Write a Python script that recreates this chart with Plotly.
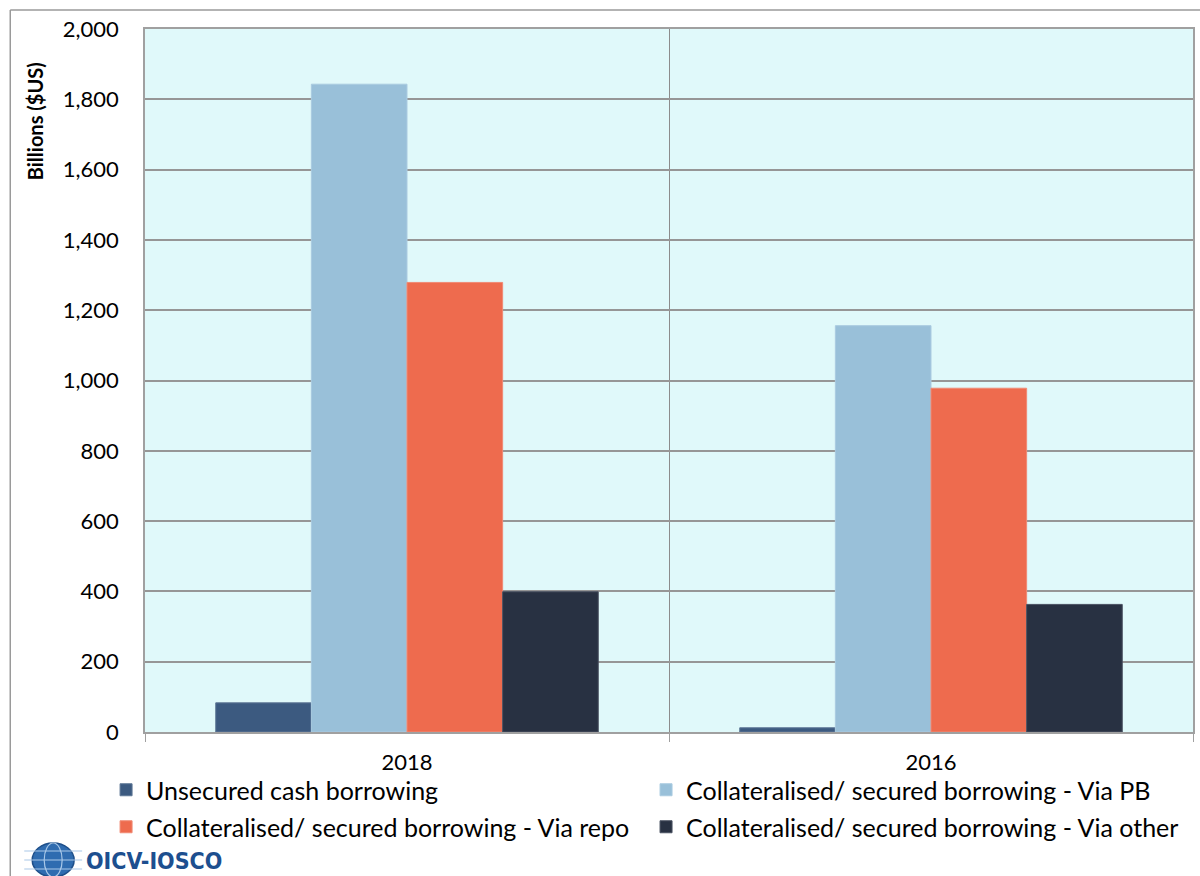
import plotly.graph_objects as go

years = ["2018", "2016"]
series_names = [
    "Unsecured cash borrowing",
    "Collateralised/ secured borrowing - Via PB",
    "Collateralised/ secured borrowing - Via repo",
    "Collateralised/ secured borrowing - Via other",
]
unsecured = [83, 12]
via_pb = [1843, 1156]
via_repo = [1279, 978]
via_other = [399, 363]
y_ticks = [0, 200, 400, 600, 800, 1000, 1200, 1400, 1600, 1800, 2000]

colors = ["#3C5A80", "#99C0D9", "#EE6B4E", "#283142"]
edges = ["#5E7796", "#AACBE0", "#F08A74", "#4A5262"]
legend_ids = ["legend", "legend2", "legend3", "legend4"]

W, H = 1200, 876
L, R, T, B = 145, 5, 29, 144
pw, ph = W - L - R, H - T - B


def px(x):
    return (x - L) / pw


def py(y):
    return (H - B - y) / ph


FONT = "Lato, 'Open Sans', sans-serif"

fig = go.Figure()
for name, vals, c, e, lg in zip(series_names, [unsecured, via_pb, via_repo, via_other], colors, edges, legend_ids):
    fig.add_trace(go.Bar(
        x=years, y=vals, name=name, legend=lg, showlegend=True,
        marker=dict(color=c, line=dict(color=e, width=1)),
    ))


def legend_box(x_left, y_top):
    return dict(
        orientation="h", x=px(x_left), y=py(y_top), xanchor="left", yanchor="top",
        font=dict(size=25, family=FONT), bgcolor="rgba(0,0,0,0)",
        itemclick=False, itemdoubleclick=False,
    )


# legend entries laid out as a 2 x 2 grid under the axis
legend_slots = [(106, 767), (647, 767), (106, 804), (647, 804)]

fig.update_layout(
    width=W, height=H,
    margin=dict(l=L, r=R, t=T, b=B),
    paper_bgcolor="white",
    plot_bgcolor="#E0F9FA",
    showlegend=True,
    barmode="group",
    bargap=0.27,
    bargroupgap=0,
    font=dict(family=FONT, color="#000000", size=20),
    xaxis=dict(
        type="category", tickson="boundaries", ticks="outside", ticklen=8,
        tickcolor="#A0A0A0", showgrid=True, gridcolor="#8C8C8C", gridwidth=1,
        showline=True, linecolor="#A0A0A0", linewidth=1.5, mirror=True,
        tickfont=dict(size=22, family=FONT), ticklabelstandoff=10,
    ),
    yaxis=dict(
        range=[0, 2000], tickvals=y_ticks, tickformat=",", ticks="",
        showgrid=True, gridcolor="#969696", gridwidth=1.5,
        showline=True, linecolor="#A0A0A0", linewidth=1.5, mirror=True,
        tickfont=dict(size=22, family=FONT), ticklabelstandoff=20,
        zeroline=False,
    ),
)
for lg, (lx, ly) in zip(legend_ids, legend_slots):
    fig.update_layout({lg: legend_box(lx, ly)})

# y-axis title, set near the top of the axis
fig.add_annotation(xref="paper", yref="paper", x=px(35), y=py(121),
                   xanchor="center", yanchor="middle", showarrow=False,
                   textangle=-90, text="<b>Billions ($US)</b>",
                   font=dict(size=20, family=FONT, color="#000000"))

# outer chart frame (top and left edges)
fig.add_shape(type="line", xref="paper", yref="paper",
              x0=px(10), x1=px(10), y0=py(H + 5), y1=py(10),
              line=dict(color="#9A9A9A", width=1.5))
fig.add_shape(type="line", xref="paper", yref="paper",
              x0=px(10), x1=px(W + 5), y0=py(10), y1=py(10),
              line=dict(color="#9A9A9A", width=1.5))

# organisation logo: globe emblem and wordmark
fig.add_shape(type="circle", xref="paper", yref="paper",
              x0=px(32), x1=px(74), y0=py(877), y1=py(843),
              fillcolor="#2F6CB0", line=dict(color="#1E4F8A", width=1.5))
for yy in (851, 860, 869):
    fig.add_shape(type="line", xref="paper", yref="paper",
                  x0=px(24), x1=px(82), y0=py(yy), y1=py(yy),
                  line=dict(color="#A9C8E8", width=1.2))
fig.add_shape(type="circle", xref="paper", yref="paper",
              x0=px(44), x1=px(62), y0=py(877), y1=py(843),
              line=dict(color="#A9C8E8", width=1.2))
fig.add_annotation(xref="paper", yref="paper", x=px(84), y=py(861),
                   xanchor="left", yanchor="middle", showarrow=False,
                   text="<b>OICV-IOSCO</b>",
                   font=dict(size=23, color="#1D4F8F",
                             family="'DejaVu Sans Condensed', 'Liberation Sans Narrow', sans-serif"))

fig.write_html("out.html")
